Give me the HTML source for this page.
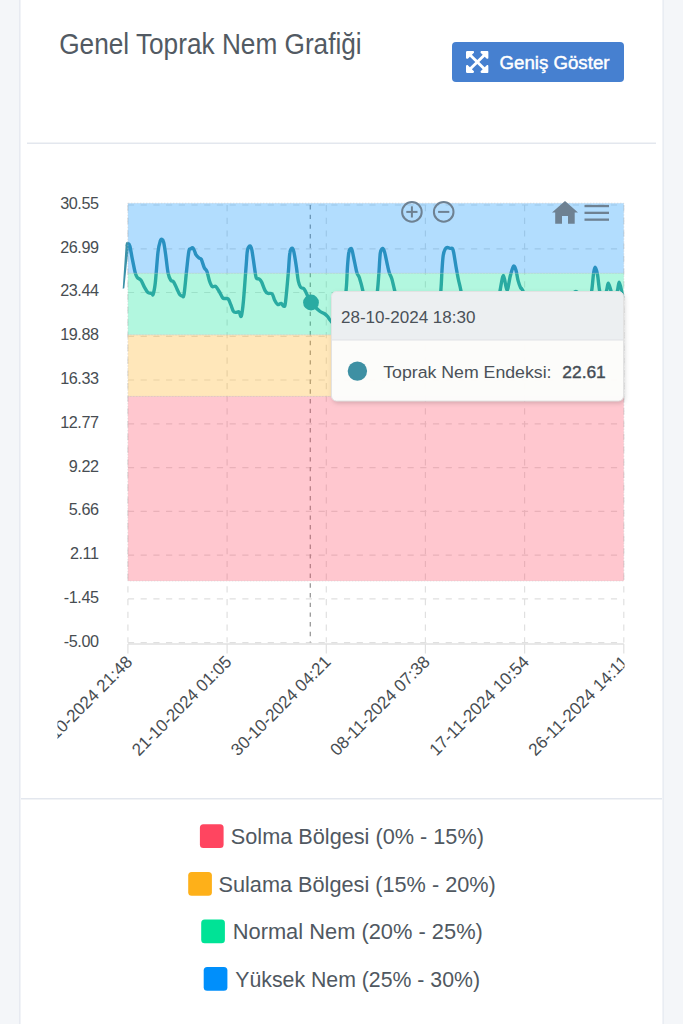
<!DOCTYPE html>
<html><head><meta charset="utf-8">
<style>
html,body{margin:0;padding:0;}
body{width:683px;height:1024px;overflow:hidden;background:#f4f6f9;position:relative;font-family:"Liberation Sans",sans-serif;}
svg{position:absolute;left:0;top:0;}
</style></head><body>
<svg width="683" height="1024" viewBox="0 0 683 1024" font-family="Liberation Sans">
<rect x="19.3" y="0" width="644.3" height="1024" fill="#e2e6ee"/>
<rect x="20.5" y="0" width="642" height="1024" fill="#fff"/>
<defs>
<clipPath id="xc"><rect x="57.5" y="645" width="567" height="150"/></clipPath>
<filter id="sh" x="-10%" y="-10%" width="130%" height="140%"><feDropShadow dx="1" dy="2" stdDeviation="2.5" flood-color="#000" flood-opacity="0.18"/></filter>
<clipPath id="ttc"><rect x="331.5" y="291.5" width="292" height="109.5" rx="5"/></clipPath>
</defs>
<text x="59.2" y="53.7" font-size="28.6" fill="#525a63" textLength="302.5" lengthAdjust="spacingAndGlyphs">Genel Toprak Nem Grafiği</text>
<rect x="452" y="42" width="172" height="40" rx="4" fill="#4680d0"/>
<svg x="466" y="51" width="22.6" height="21.9" viewBox="0 32 448 448" preserveAspectRatio="none"><path fill="#fff" d="M448 344v112a23.94 23.94 0 0 1-24 24H312c-21.39 0-32.09-25.9-17-41l36.2-36.2L224 295.6 116.77 402.9 153 439c15.09 15.1 4.39 41-17 41H24a23.94 23.94 0 0 1-24-24V344c0-21.4 25.89-32.1 41-17l36.19 36.2L184.46 256 77.18 148.7 41 185c-15.1 15.1-41 4.4-41-17V56a23.94 23.94 0 0 1 24-24h112c21.39 0 32.09 25.9 17 41l-36.2 36.2L224 216.4l107.230-107.3L295 73c-15.09-15.1-4.39-41 17-41h112a23.94 23.94 0 0 1 24 24v112c0 21.4-25.89 32.1-41 17l-36.19-36.2L263.54 256l107.28 107.3L407 327.1c15.1-15.2 41-4.5 41 16.9z"/></svg>
<text x="499.5" y="68.7" font-size="18" fill="#fff" textLength="110" lengthAdjust="spacingAndGlyphs" stroke="#fff" stroke-width="0.45">Geniş Göster</text>
<rect x="27" y="142.5" width="629" height="1.5" fill="#e3e7ee"/>
<rect x="21" y="798" width="641" height="1.5" fill="#e3e7ee"/>
<g stroke="#e0e0e0" stroke-width="1.2" stroke-dasharray="6.2 6.51" fill="none">
<line x1="127.9" y1="205.0" x2="623.8" y2="205.0"/>
<line x1="127.9" y1="248.8" x2="623.8" y2="248.8"/>
<line x1="127.9" y1="292.5" x2="623.8" y2="292.5"/>
<line x1="127.9" y1="336.3" x2="623.8" y2="336.3"/>
<line x1="127.9" y1="380.0" x2="623.8" y2="380.0"/>
<line x1="127.9" y1="423.8" x2="623.8" y2="423.8"/>
<line x1="127.9" y1="467.6" x2="623.8" y2="467.6"/>
<line x1="127.9" y1="511.3" x2="623.8" y2="511.3"/>
<line x1="127.9" y1="555.1" x2="623.8" y2="555.1"/>
<line x1="127.9" y1="598.8" x2="623.8" y2="598.8"/>
<line x1="127.9" y1="642.6" x2="623.8" y2="642.6"/>
<line x1="127.9" y1="205.0" x2="127.9" y2="642.6"/>
<line x1="227.1" y1="205.0" x2="227.1" y2="642.6"/>
<line x1="326.3" y1="205.0" x2="326.3" y2="642.6"/>
<line x1="425.4" y1="205.0" x2="425.4" y2="642.6"/>
<line x1="524.6" y1="205.0" x2="524.6" y2="642.6"/>
<line x1="623.8" y1="205.0" x2="623.8" y2="642.6"/>
</g>
<line x1="127.9" y1="644" x2="623.8" y2="644" stroke="#e0e0e0" stroke-width="1.3"/>
<g stroke="#e0e0e0" stroke-width="1.2">
<line x1="127.9" y1="644" x2="127.9" y2="653.4"/>
<line x1="227.1" y1="644" x2="227.1" y2="653.4"/>
<line x1="326.3" y1="644" x2="326.3" y2="653.4"/>
<line x1="425.4" y1="644" x2="425.4" y2="653.4"/>
<line x1="524.6" y1="644" x2="524.6" y2="653.4"/>
<line x1="623.8" y1="644" x2="623.8" y2="653.4"/>
</g>
<line x1="310.3" y1="205.0" x2="310.3" y2="642.6" stroke="#999" stroke-width="1.3" stroke-dasharray="4.4 5.3"/>
<path d="M127.2,245.0 C127.6,242.9 127.6,243.4 128.1,243.6 C128.5,243.8 129.2,243.6 129.9,246.3 C130.6,249.0 131.6,255.6 132.5,259.9 C133.4,264.2 134.3,269.3 135.1,272.2 C135.9,275.1 136.4,276.2 137.3,277.5 C138.2,278.8 139.6,278.5 140.8,280.1 C142.0,281.7 143.2,285.0 144.4,287.1 C145.6,289.2 146.7,291.5 147.9,292.5 C149.1,293.5 150.9,293.0 151.8,293.3 C152.7,293.6 152.5,296.2 153.1,294.4 C153.7,292.6 154.5,289.8 155.3,282.7 C156.1,275.6 157.2,258.9 158.0,252.0 C158.8,245.1 159.5,243.5 160.2,241.4 C160.8,239.3 161.3,239.2 161.9,239.4 C162.5,239.6 163.0,239.5 163.7,242.3 C164.4,245.1 165.2,251.3 165.9,256.4 C166.6,261.5 167.3,269.2 168.1,273.1 C168.9,277.1 169.8,278.7 170.7,280.1 C171.6,281.6 172.4,280.3 173.5,281.8 C174.6,283.3 176.0,286.8 177.0,288.9 C178.0,291.0 178.8,293.4 179.7,294.6 C180.6,295.8 181.6,296.1 182.3,296.0 C183.0,295.9 183.4,298.5 184.1,294.1 C184.8,289.7 185.9,276.7 186.7,269.5 C187.5,262.3 188.2,254.5 188.9,251.1 C189.6,247.7 190.0,249.4 190.7,248.9 C191.3,248.4 192.2,247.4 192.8,247.8 C193.5,248.2 194.1,250.0 194.6,251.1 C195.1,252.2 195.2,253.4 195.9,254.6 C196.6,255.8 198.1,257.3 199.0,258.1 C199.9,258.9 200.3,257.6 201.2,259.2 C202.1,260.8 203.4,265.8 204.3,267.8 C205.2,269.8 206.0,269.1 206.9,271.3 C207.8,273.5 208.6,278.4 209.5,281.0 C210.4,283.6 211.2,285.7 212.2,286.6 C213.2,287.5 214.5,285.6 215.7,286.4 C216.9,287.2 218.0,289.6 219.2,291.5 C220.4,293.4 221.7,296.6 222.7,297.8 C223.7,299.0 224.1,298.3 225.0,298.5 C225.9,298.7 227.2,298.0 228.2,299.0 C229.2,300.0 229.9,302.6 230.8,304.7 C231.7,306.8 232.5,310.1 233.4,311.4 C234.3,312.7 235.2,312.3 236.1,312.4 C237.0,312.5 238.2,311.3 239.1,311.9 C240.0,312.5 240.6,318.1 241.3,316.2 C242.0,314.3 242.7,308.8 243.5,300.3 C244.3,291.8 245.5,273.5 246.2,265.1 C246.9,256.8 246.8,253.4 247.5,250.2 C248.2,247.0 249.4,246.0 250.1,246.0 C250.8,246.0 251.2,246.6 251.9,250.2 C252.6,253.8 253.8,263.2 254.5,267.8 C255.2,272.4 255.6,276.2 256.3,278.0 C257.0,279.8 258.0,278.2 258.9,278.8 C259.8,279.4 260.5,279.8 261.5,281.8 C262.5,283.8 264.1,288.7 265.1,290.6 C266.1,292.5 266.5,292.8 267.7,293.3 C268.9,293.9 270.9,292.7 272.1,293.9 C273.3,295.1 273.8,298.5 274.7,300.3 C275.6,302.1 276.5,304.0 277.6,304.5 C278.7,305.0 280.2,303.1 281.2,303.4 C282.2,303.7 283.1,306.4 283.8,306.2 C284.5,306.0 284.8,307.5 285.5,302.1 C286.2,296.7 287.5,282.1 288.2,273.9 C288.9,265.7 289.2,257.1 289.9,252.8 C290.5,248.5 291.4,248.3 292.1,248.2 C292.8,248.1 293.2,248.7 293.9,252.0 C294.6,255.3 295.8,263.0 296.5,267.8 C297.2,272.6 297.6,277.8 298.3,281.0 C299.0,284.2 299.6,285.8 300.5,287.1 C301.4,288.4 302.7,287.8 303.6,288.6 C304.5,289.4 304.6,289.7 305.8,292.0 C307.0,294.3 308.7,299.3 311.0,302.5 C313.3,305.7 317.6,309.5 319.8,311.3 C322.0,313.1 322.9,312.6 324.2,313.5 C325.5,314.4 326.7,315.5 327.7,316.6 C328.7,317.7 328.6,318.4 330.0,320.0 C331.4,321.6 334.0,326.0 336.0,326.0 C338.0,326.0 340.3,326.0 342.0,320.0 C343.7,314.0 345.2,299.1 346.1,290.2 C347.0,281.3 347.0,272.8 347.5,266.4 C348.0,260.0 348.3,255.1 348.9,252.1 C349.4,249.1 350.2,248.7 350.8,248.5 C351.4,248.3 351.7,248.8 352.3,251.2 C352.9,253.5 353.9,259.0 354.7,262.6 C355.5,266.2 356.2,270.6 357.0,273.1 C357.8,275.6 358.4,275.0 359.4,277.8 C360.3,280.6 361.3,283.5 362.7,290.2 C364.1,296.9 366.1,313.4 368.0,318.0 C369.9,322.6 372.4,322.6 374.0,318.0 C375.6,313.4 376.7,297.7 377.5,290.2 C378.3,282.7 378.4,279.3 378.9,273.1 C379.4,266.9 379.7,257.2 380.3,253.1 C380.9,249.0 382.0,248.7 382.7,248.5 C383.4,248.3 383.8,249.3 384.6,252.1 C385.4,254.9 386.7,261.9 387.5,265.4 C388.3,268.9 388.7,270.9 389.4,273.1 C390.1,275.3 390.9,276.0 391.8,278.8 C392.7,281.6 392.9,283.7 394.6,290.2 C396.3,296.7 396.9,312.2 402.0,318.0 C407.1,323.8 419.0,325.0 425.0,325.0 C431.0,325.0 435.4,323.8 438.0,318.0 C440.6,312.2 440.2,298.0 440.9,290.0 C441.6,282.0 441.6,275.9 442.0,270.1 C442.4,264.4 442.7,259.0 443.2,255.5 C443.7,252.0 444.5,250.3 445.2,249.0 C445.9,247.7 446.5,247.6 447.3,247.5 C448.1,247.4 449.4,248.2 450.2,248.4 C451.0,248.6 451.7,247.7 452.3,248.4 C452.9,249.1 453.1,249.5 453.7,252.6 C454.3,255.7 455.3,262.7 456.1,267.2 C456.9,271.7 457.6,275.7 458.4,279.5 C459.2,283.3 459.5,283.6 460.8,290.0 C462.1,296.4 460.8,313.0 466.0,318.0 C471.2,323.0 486.8,321.3 492.0,320.0 C497.2,318.7 495.6,314.9 497.0,310.0 C498.4,305.1 499.0,296.1 500.1,290.4 C501.2,284.6 502.4,275.5 503.5,275.5 C504.6,275.5 505.9,290.4 507.0,290.4 C508.1,290.4 509.3,279.5 510.4,275.5 C511.5,271.5 512.6,267.1 513.5,266.2 C514.4,265.3 515.2,268.0 516.0,270.4 C516.8,272.8 517.3,277.7 518.1,280.6 C518.9,283.5 519.8,286.2 520.6,287.8 C521.4,289.4 520.3,285.9 522.7,290.4 C525.1,294.9 528.0,312.6 535.0,315.0 C542.0,317.4 558.8,308.3 565.0,305.0 C571.2,301.7 570.2,297.2 572.0,295.0 C573.8,292.8 574.7,291.5 576.0,291.5 C577.3,291.5 578.0,292.8 580.0,295.0 C582.0,297.2 586.1,305.6 588.0,305.0 C589.9,304.4 590.7,296.4 591.6,291.2 C592.5,286.0 592.9,278.0 593.5,274.0 C594.1,270.0 594.4,267.2 595.0,267.2 C595.6,267.2 596.6,270.0 597.4,274.0 C598.2,278.0 598.8,286.9 599.7,291.2 C600.6,295.5 601.9,300.0 603.0,300.0 C604.1,300.0 605.5,294.0 606.4,291.2 C607.3,288.4 607.5,283.3 608.3,283.3 C609.1,283.3 610.1,288.4 611.1,291.2 C612.1,294.0 613.0,300.0 614.0,300.0 C615.0,300.0 616.4,294.1 617.3,291.2 C618.2,288.2 618.5,282.3 619.2,282.3 C619.9,282.3 621.1,288.8 621.6,291.2 C622.1,293.6 622.4,296.0 622.5,297.0" fill="none" stroke="#3c92a8" stroke-width="3.4" stroke-linejoin="round" stroke-linecap="round"/>
<circle cx="311" cy="302.5" r="7.9" fill="#3c92a8"/>
<path d="M122.7,288.8 L124.3,288.2 L127.0,262 L129.0,247.5 L127.6,243.2 L125.6,245.5 Z" fill="#3c92a8"/>
<rect x="127.9" y="203.2" width="495.9" height="70.1" fill="#008ffb" fill-opacity="0.3" stroke="#c8c8c8" stroke-opacity="0.55" stroke-width="0.9" stroke-dasharray="1.5 1.5"/>
<rect x="127.9" y="273.3" width="495.9" height="61.5" fill="#00e396" fill-opacity="0.3" stroke="#c8c8c8" stroke-opacity="0.55" stroke-width="0.9" stroke-dasharray="1.5 1.5"/>
<rect x="127.9" y="334.9" width="495.9" height="61.5" fill="#feb019" fill-opacity="0.3" stroke="#c8c8c8" stroke-opacity="0.55" stroke-width="0.9" stroke-dasharray="1.5 1.5"/>
<rect x="127.9" y="396.4" width="495.9" height="184.6" fill="#ff4560" fill-opacity="0.3" stroke="#c8c8c8" stroke-opacity="0.55" stroke-width="0.9" stroke-dasharray="1.5 1.5"/>
<g font-size="16.2" fill="#474d52" letter-spacing="-0.45">
<text x="98.5" y="208.9" text-anchor="end">30.55</text>
<text x="98.5" y="252.7" text-anchor="end">26.99</text>
<text x="98.5" y="296.4" text-anchor="end">23.44</text>
<text x="98.5" y="340.2" text-anchor="end">19.88</text>
<text x="98.5" y="383.9" text-anchor="end">16.33</text>
<text x="98.5" y="427.7" text-anchor="end">12.77</text>
<text x="98.5" y="471.5" text-anchor="end">9.22</text>
<text x="98.5" y="515.2" text-anchor="end">5.66</text>
<text x="98.5" y="559.0" text-anchor="end">2.11</text>
<text x="98.5" y="602.7" text-anchor="end">-1.45</text>
<text x="98.5" y="646.5" text-anchor="end">-5.00</text>
</g>
<g font-size="17.3" fill="#474d52" clip-path="url(#xc)">
<text x="133.4" y="663.0" text-anchor="end" textLength="132.5" lengthAdjust="spacingAndGlyphs" transform="rotate(-45 133.4 663.0)">11-10-2024 21:48</text>
<text x="232.6" y="663.0" text-anchor="end" textLength="132.5" lengthAdjust="spacingAndGlyphs" transform="rotate(-45 232.6 663.0)">21-10-2024 01:05</text>
<text x="331.8" y="663.0" text-anchor="end" textLength="132.5" lengthAdjust="spacingAndGlyphs" transform="rotate(-45 331.8 663.0)">30-10-2024 04:21</text>
<text x="430.9" y="663.0" text-anchor="end" textLength="132.5" lengthAdjust="spacingAndGlyphs" transform="rotate(-45 430.9 663.0)">08-11-2024 07:38</text>
<text x="530.1" y="663.0" text-anchor="end" textLength="132.5" lengthAdjust="spacingAndGlyphs" transform="rotate(-45 530.1 663.0)">17-11-2024 10:54</text>
<text x="629.3" y="663.0" text-anchor="end" textLength="132.5" lengthAdjust="spacingAndGlyphs" transform="rotate(-45 629.3 663.0)">26-11-2024 14:11</text>
</g>
<g fill="none" stroke="#6e8192" stroke-width="2">
<circle cx="411.9" cy="211.9" r="9.8"/>
<line x1="406.3" y1="211.9" x2="417.5" y2="211.9"/><line x1="411.9" y1="206.3" x2="411.9" y2="217.5"/>
<circle cx="443.7" cy="211.9" r="9.8"/>
<line x1="438.1" y1="211.9" x2="449.3" y2="211.9"/>
</g>
<g fill="#6e8192">
<path d="M565,201 L578,212.6 L574.7,212.6 L574.7,223.7 L568,223.7 L568,216 L562,216 L562,223.7 L555.2,223.7 L555.2,212.6 L552,212.6 Z"/>
<rect x="584.5" y="204.9" width="24.5" height="2.3"/>
<rect x="584.5" y="211.7" width="24.5" height="2.3"/>
<rect x="584.5" y="218.5" width="24.5" height="2.3"/>
</g>
<g filter="url(#sh)"><rect x="331.5" y="291.5" width="292" height="109.5" rx="5" fill="#fdfdfc" fill-opacity="0.97"/></g>
<g clip-path="url(#ttc)">
<rect x="331.5" y="291.5" width="292" height="48.5" fill="#eceff1"/>
<rect x="331.5" y="339.5" width="292" height="1" fill="#dfe2e5"/>
</g>
<rect x="331.5" y="291.5" width="292" height="109.5" rx="5" fill="none" stroke="#e2e2e2" stroke-width="1"/>
<text x="341" y="322.5" font-size="17.3" fill="#4a5158" textLength="134.5" lengthAdjust="spacingAndGlyphs">28-10-2024 18:30</text>
<circle cx="357.4" cy="371.1" r="9.7" fill="#3e90a3"/>
<text x="383.2" y="378" font-size="17.4" fill="#4a5158" textLength="168.3" lengthAdjust="spacingAndGlyphs">Toprak Nem Endeksi:</text>
<text x="562.3" y="378" font-size="17.4" fill="#454c54" textLength="43.5" lengthAdjust="spacingAndGlyphs" stroke="#454c54" stroke-width="0.4">22.61</text>
<rect x="199.9" y="824.2" width="23.7" height="23.8" rx="3.5" fill="#ff4560"/>
<text x="230.8" y="844.1" font-size="21.5" fill="#505861" textLength="253.1" lengthAdjust="spacingAndGlyphs">Solma Bölgesi (0% - 15%)</text>
<rect x="188.2" y="871.9000000000001" width="23.7" height="23.8" rx="3.5" fill="#feb019"/>
<text x="218.5" y="891.8000000000001" font-size="21.5" fill="#505861" textLength="277.3" lengthAdjust="spacingAndGlyphs">Sulama Bölgesi (15% - 20%)</text>
<rect x="201.2" y="919.4000000000001" width="23.7" height="23.8" rx="3.5" fill="#00e396"/>
<text x="232.7" y="939.3000000000001" font-size="21.5" fill="#505861" textLength="250.2" lengthAdjust="spacingAndGlyphs">Normal Nem (20% - 25%)</text>
<rect x="203.7" y="966.9000000000001" width="23.7" height="23.8" rx="3.5" fill="#008ffb"/>
<text x="235.3" y="986.8000000000001" font-size="21.5" fill="#505861" textLength="244.7" lengthAdjust="spacingAndGlyphs">Yüksek Nem (25% - 30%)</text>
</svg>
</body></html>
